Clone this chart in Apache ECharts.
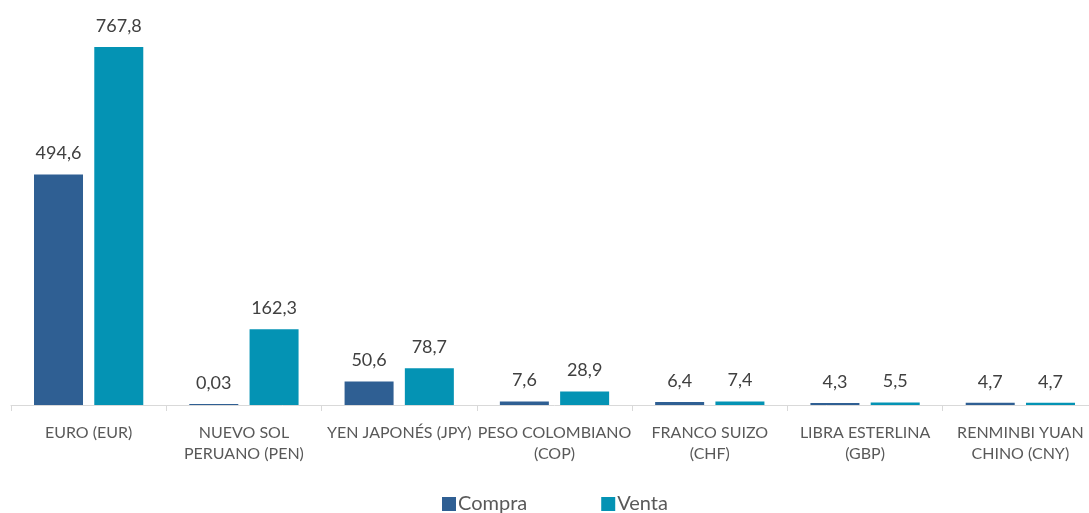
<!DOCTYPE html>
<html>
<head>
<meta charset="utf-8">
<script src="https://cdn.jsdelivr.net/npm/echarts@6/dist/echarts.min.js"></script>
<style>html,body{margin:0;padding:0;background:#fff;overflow:hidden}#c{width:1100px;height:513px}</style>
</head>
<body>
<div id="c"></div>
<script>
const categories = ["EURO (EUR)", "NUEVO SOL\nPERUANO (PEN)", "YEN JAPONÉS (JPY)", "PESO COLOMBIANO\n(COP)", "FRANCO SUIZO\n(CHF)", "LIBRA ESTERLINA\n(GBP)", "RENMINBI YUAN\nCHINO (CNY)"];
const compra = [494.6, 0.03, 50.6, 7.6, 6.4, 4.3, 4.7];
const venta = [767.8, 162.3, 78.7, 28.9, 7.4, 5.5, 4.7];
const seriesNames = ["Compra", "Venta"];

const fmt = p => String(p.value).replace('.', ',');
const chart = echarts.init(document.getElementById('c'));
const font = 'Lato, "Open Sans", sans-serif';
chart.setOption({
  animation: false,
  textStyle: {fontFamily: font},
  grid: {left: 11, top: 32, bottom: 108, width: 1087, containLabel: false},
  legend: {
    bottom: -6, left: 437, itemWidth: 14, itemHeight: 14, itemGap: 74,
    icon: 'rect',
    textStyle: {fontSize: 20, color: '#595959', fontFamily: font, padding: [0,0,0,-3]},
    data: seriesNames
  },
  xAxis: {
    type: 'category', data: categories,
    axisLine: {lineStyle: {color: '#d9d9d9', width: 1}},
    axisTick: {show: true, length: 6, lineStyle: {color: '#d9d9d9'}},
    axisLabel: {color: '#595959', fontSize: 16, margin: 17, lineHeight: 21, interval: 0, fontFamily: font}
  },
  yAxis: {type: 'value', min: 0, max: 800, show: false, splitLine: {show: false}},
  series: [
    {name: seriesNames[0], type: 'bar', data: compra, barWidth: 49, barGap: '23%',
     itemStyle: {color: '#2F5F93'}, barMinHeight: 1,
     label: {show: true, position: 'top', distance: 12, fontSize: 18, color: '#404040', formatter: fmt, fontFamily: font}},
    {name: seriesNames[1], type: 'bar', data: venta, barWidth: 49,
     itemStyle: {color: '#0493B4'}, barMinHeight: 1,
     label: {show: true, position: 'top', distance: 12, fontSize: 18, color: '#404040', formatter: fmt, fontFamily: font}}
  ]
});
</script>
</body>
</html>
